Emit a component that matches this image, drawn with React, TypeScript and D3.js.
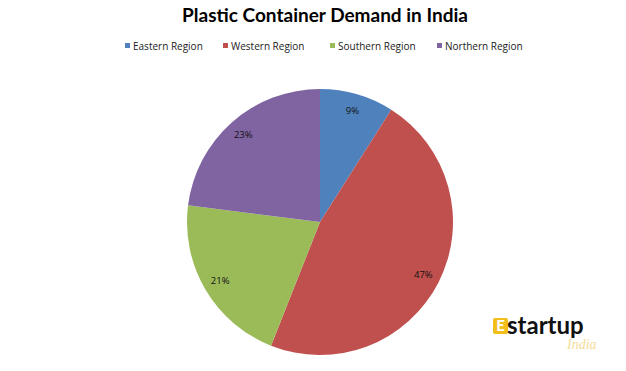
import React, { useEffect, useRef } from 'react';
import * as d3 from 'd3';

const regions = ['Eastern Region', 'Western Region', 'Southern Region', 'Northern Region'];
const shares = [9, 47, 21, 23];
const colors = ['#4F81BD', '#C0504D', '#9BBB59', '#8064A2'];

export default function App() {
  const ref = useRef<SVGSVGElement>(null);

  useEffect(() => {
    const width = 626, height = 371;
    const svg = d3.select(ref.current);
    svg.selectAll('*').remove();

    svg.append('rect').attr('width', width).attr('height', height).attr('fill', '#fff');

    // title
    svg.append('text')
      .attr('x', 325).attr('y', 22)
      .attr('text-anchor', 'middle')
      .style('font-family', 'Lato, sans-serif').style('font-weight', 700).style('font-size', '19px')
      .attr('fill', '#000')
      .text('Plastic Container Demand in India');

    const color = d3.scaleOrdinal<string, string>().domain(regions).range(colors);

    // legend
    const legendX = [125, 223, 330, 437];
    const legend = svg.append('g').attr('transform', 'translate(0,46)');
    regions.forEach((r, i) => {
      legend.append('rect').attr('x', legendX[i]).attr('y', -3).attr('width', 5).attr('height', 5).attr('fill', color(r));
      legend.append('text').attr('x', legendX[i] + 8).attr('y', 3.5)
        .style('font-family', '"Open Sans", sans-serif').style('font-size', '10px')
        .attr('fill', '#222').text(r);
    });

    // pie
    const cx = 320, cy = 222, radius = 133;
    const data = regions.map((r, i) => ({ region: r, value: shares[i] }));
    const pie = d3.pie<any>().value(d => d.value).sort(null);
    const arc = d3.arc<any>().innerRadius(0).outerRadius(radius);
    const labelArc = d3.arc<any>().innerRadius(116).outerRadius(116);

    const g = svg.append('g').attr('transform', `translate(${cx},${cy})`);
    const arcs = pie(data);
    g.selectAll('path').data(arcs).enter().append('path')
      .attr('d', arc).attr('fill', d => color(d.data.region));

    g.selectAll('text').data(arcs).enter().append('text')
      .attr('transform', d => {
        const [x, y] = labelArc.centroid(d);
        return `translate(${x},${y})`;
      })
      .attr('text-anchor', 'middle').attr('dy', '0.35em')
      .style('font-family', '"Open Sans", sans-serif').style('font-size', '9.5px')
      .attr('fill', '#111')
      .text(d => `${d.data.value}%`);

    // watermark logo
    const logo = svg.append('g').attr('transform', 'translate(493,318)');
    logo.append('rect').attr('width', 15).attr('height', 16).attr('rx', 2).attr('fill', '#F2BE1A');
    logo.append('text').attr('x', 7.5).attr('y', 13).attr('text-anchor', 'middle')
      .style('font-family', 'Lato, sans-serif').style('font-weight', 900).style('font-size', '15px')
      .attr('fill', '#fff').text('E');
    logo.append('text').attr('x', 14).attr('y', 16)
      .style('font-family', 'Lato, sans-serif').style('font-weight', 700).style('font-size', '24px')
      .attr('fill', '#111').text('startup');
    logo.append('text').attr('x', 74).attr('y', 31)
      .style('font-family', 'serif').style('font-style', 'italic').style('font-size', '14px')
      .attr('fill', '#F3DC9A').text('India');
  }, []);

  return (
    <div style={{ position: 'absolute', left: 0, top: 0 }}>
      <svg ref={ref} width={626} height={371} style={{ display: 'block' }} />
    </div>
  );
}
